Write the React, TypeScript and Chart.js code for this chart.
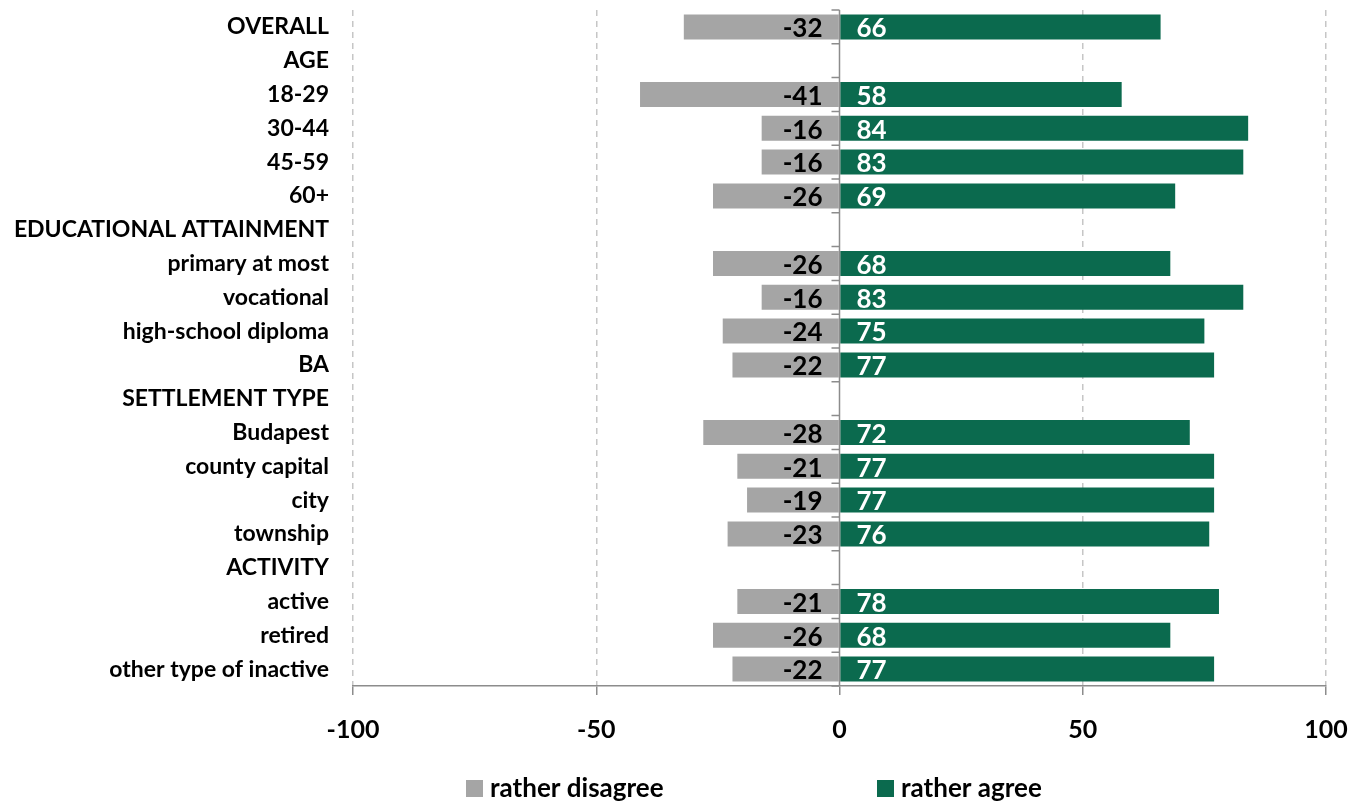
import React, { useEffect, useRef } from "react";
import { Chart, registerables } from "chart.js";

Chart.register(...registerables);

const categories = [
  "OVERALL",
  "AGE",
  "18-29",
  "30-44",
  "45-59",
  "60+",
  "EDUCATIONAL ATTAINMENT",
  "primary at most",
  "vocational",
  "high-school diploma",
  "BA",
  "SETTLEMENT TYPE",
  "Budapest",
  "county capital",
  "city",
  "township",
  "ACTIVITY",
  "active",
  "retired",
  "other type of inactive",
];

const disagreeValues: (number | null)[] = [
  -32, null, -41, -16, -16, -26, null, -26, -16, -24, -22, null, -28, -21, -19, -23, null, -21, -26, -22,
];

const agreeValues: (number | null)[] = [
  66, null, 58, 84, 83, 69, null, 68, 83, 75, 77, null, 72, 77, 77, 76, null, 78, 68, 77,
];

const xTickValues = [-100, -50, 0, 50, 100];
const seriesNames = ["rather disagree", "rather agree"];
const seriesColors = ["#a5a5a5", "#0b6a4e"];

const FONT = "Lato, 'Open Sans', sans-serif";
const AXIS_GRAY = "#8c8c8c";

const zeroAxisPlugin = {
  id: "zeroAxis",
  afterDatasetsDraw(chart: any) {
    const { ctx, chartArea, scales } = chart;
    const x0 = scales.x.getPixelForValue(0);
    ctx.save();
    ctx.strokeStyle = AXIS_GRAY;
    ctx.lineWidth = 1.5;
    ctx.beginPath();
    ctx.moveTo(x0, chartArea.top);
    ctx.lineTo(x0, chartArea.bottom);
    ctx.stroke();
    const n = categories.length;
    const step = (chartArea.bottom - chartArea.top) / n;
    ctx.beginPath();
    for (let i = 0; i <= n; i++) {
      const y = chartArea.top + i * step;
      ctx.moveTo(x0 - 8, y);
      ctx.lineTo(x0, y);
    }
    ctx.stroke();
    ctx.restore();
  },
};

const dataLabelPlugin = {
  id: "dataLabels",
  afterDatasetsDraw(chart: any) {
    const { ctx, scales } = chart;
    const x0 = scales.x.getPixelForValue(0);
    ctx.save();
    ctx.font = `bold 26px ${FONT}`;
    ctx.textBaseline = "middle";
    chart.data.datasets.forEach((ds: any, di: number) => {
      const meta = chart.getDatasetMeta(di);
      meta.data.forEach((el: any, i: number) => {
        const v = ds.data[i];
        if (v === null || v === undefined) return;
        const label = String(v);
        if (v < 0) {
          ctx.fillStyle = "#000000";
          ctx.textAlign = "right";
          ctx.fillText(label, x0 - 17, el.y + 2);
        } else {
          ctx.fillStyle = "#ffffff";
          ctx.textAlign = "left";
          ctx.fillText(label, x0 + 17, el.y + 2);
        }
      });
    });
    ctx.restore();
  },
};

const legendPlugin = {
  id: "customLegend",
  afterDraw(chart: any) {
    const { ctx } = chart;
    const items = [
      { x: 466, name: seriesNames[0], color: seriesColors[0] },
      { x: 877, name: seriesNames[1], color: seriesColors[1] },
    ];
    ctx.save();
    ctx.font = `bold 26px ${FONT}`;
    ctx.textBaseline = "alphabetic";
    ctx.textAlign = "left";
    items.forEach((it) => {
      ctx.fillStyle = it.color;
      ctx.fillRect(it.x, 780, 17, 17);
      ctx.fillStyle = "#000000";
      ctx.fillText(it.name, it.x + 24, 797);
    });
    ctx.restore();
  },
};

export default function App() {
  const canvasRef = useRef<HTMLCanvasElement | null>(null);

  useEffect(() => {
    if (!canvasRef.current) return;
    const chart = new Chart(canvasRef.current, {
      type: "bar",
      data: {
        labels: categories,
        datasets: [
          {
            label: seriesNames[0],
            data: disagreeValues as any,
            backgroundColor: seriesColors[0],
            barPercentage: 0.74,
            categoryPercentage: 1,
          },
          {
            label: seriesNames[1],
            data: agreeValues as any,
            backgroundColor: seriesColors[1],
            barPercentage: 0.74,
            categoryPercentage: 1,
          },
        ],
      },
      options: {
        indexAxis: "y",
        responsive: false,
        animation: false,
        devicePixelRatio: 1,
        layout: { padding: { left: 0, top: 10, right: 29, bottom: 0 } },
        plugins: {
          legend: { display: false },
          tooltip: { enabled: false },
        },
        scales: {
          x: {
            type: "linear",
            stacked: true,
            min: -100,
            max: 100,
            afterBuildTicks: (scale: any) => {
              scale.ticks = xTickValues.map((v) => ({ value: v }));
            },
            afterFit: (scale: any) => {
              scale.height = 118;
              scale.paddingLeft = 0;
              scale.paddingRight = 0;
            },
            ticks: {
              color: "#000000",
              font: { family: FONT, size: 25, weight: "bold" },
              padding: 20,
              maxRotation: 0,
            },
            grid: {
              color: (ctx: any) => (ctx.tick && ctx.tick.value === 0 ? "rgba(0,0,0,0)" : "#c6c6c6"),
              lineWidth: 1.5,
              tickColor: AXIS_GRAY,
              tickLength: 9,
              tickWidth: 1.5,
            },
            border: { display: true, color: AXIS_GRAY, width: 1.5, dash: [6, 5] },
          },
          y: {
            type: "category",
            stacked: true,
            afterFit: (scale: any) => {
              scale.width = 353;
              scale.paddingTop = 0;
              scale.paddingBottom = 0;
            },
            ticks: {
              color: "#000000",
              font: { family: FONT, size: 23, weight: "bold" },
              padding: 24,
              autoSkip: false,
            },
            grid: { display: false, drawTicks: false },
            border: { display: false },
          },
        },
      },
      plugins: [zeroAxisPlugin, dataLabelPlugin, legendPlugin],
    });
    return () => chart.destroy();
  }, []);

  return (
    <div style={{ position: "fixed", left: 0, top: 0, width: 1355, height: 804, background: "#ffffff" }}>
      <canvas ref={canvasRef} width={1355} height={804} style={{ width: 1355, height: 804 }} />
    </div>
  );
}
